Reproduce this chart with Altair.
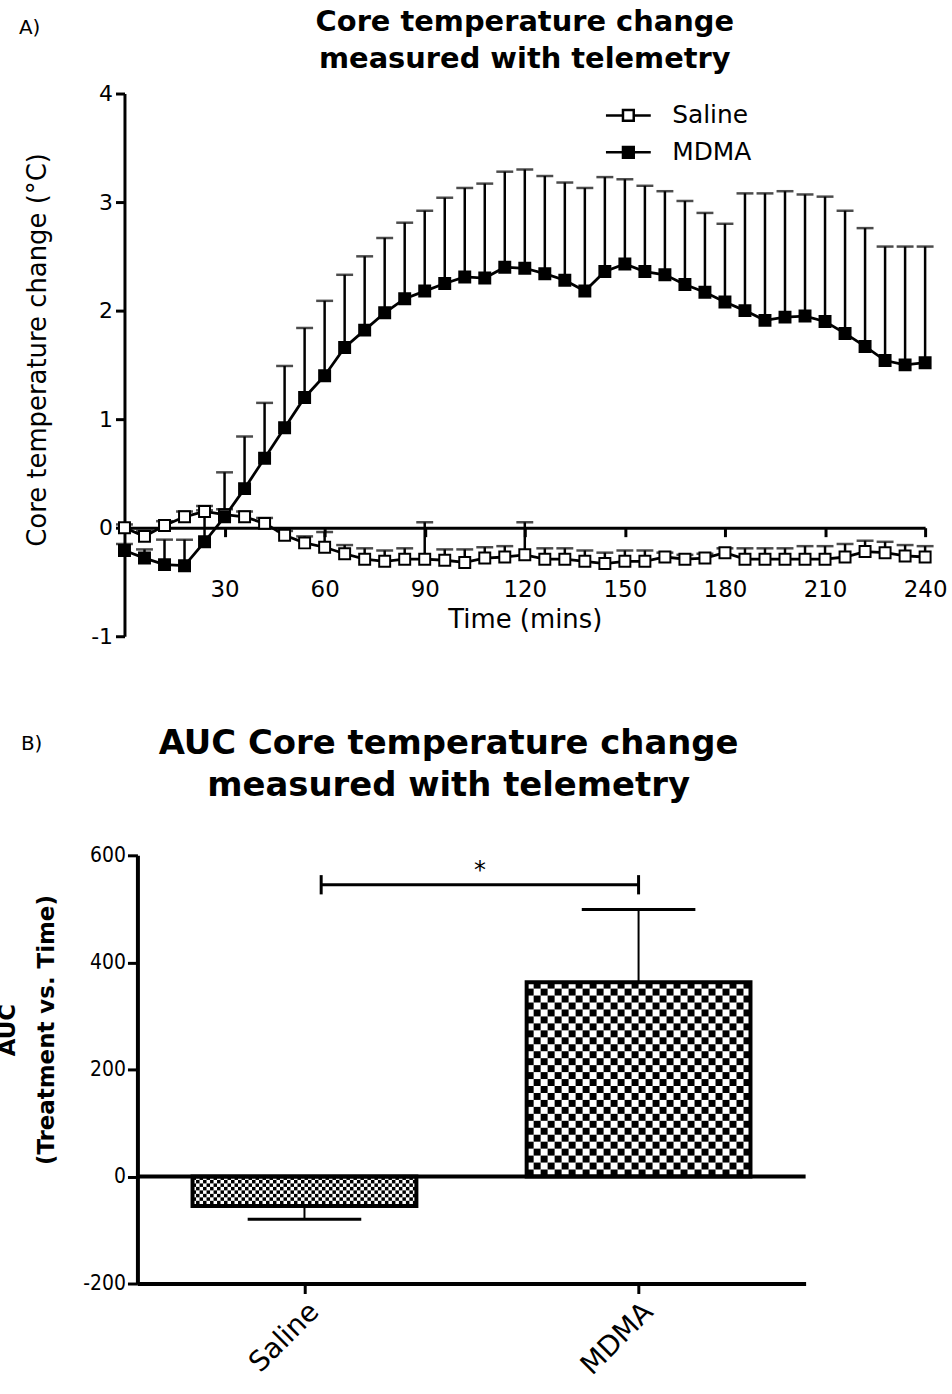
import json
import altair as alt
import pandas as pd

FONT = "DejaVu Sans"
NARROW = "Liberation Sans Narrow, DejaVu Sans Condensed, Liberation Sans"

# ---------------- Panel A data ----------------
time_min = [0, 6, 12, 18, 24, 30, 36, 42, 48, 54, 60, 66, 72, 78, 84, 90, 96, 102, 108, 114,
            120, 126, 132, 138, 144, 150, 156, 162, 168, 174, 180, 186, 192, 198, 204, 210,
            216, 222, 228, 234, 240]

mdma_mean = [-0.21, -0.28, -0.34, -0.35, -0.13, 0.10, 0.36, 0.64, 0.92, 1.20, 1.40, 1.66, 1.82,
             1.98, 2.11, 2.18, 2.25, 2.31, 2.30, 2.40, 2.39, 2.34, 2.28, 2.18, 2.36, 2.43, 2.36,
             2.33, 2.24, 2.17, 2.08, 2.00, 1.91, 1.94, 1.95, 1.90, 1.79, 1.67, 1.54, 1.50, 1.52]
mdma_sem = [0.06, 0.08, 0.23, 0.24, 0.29, 0.41, 0.48, 0.51, 0.57, 0.64, 0.69, 0.67, 0.68, 0.69,
            0.70, 0.74, 0.79, 0.82, 0.87, 0.88, 0.91, 0.90, 0.90, 0.95, 0.87, 0.78, 0.79, 0.77,
            0.77, 0.73, 0.72, 1.08, 1.17, 1.16, 1.12, 1.15, 1.13, 1.09, 1.05, 1.09, 1.07]

saline_mean = [0.00, -0.08, 0.02, 0.10, 0.15, 0.12, 0.10, 0.04, -0.07, -0.14, -0.18, -0.24, -0.29,
               -0.31, -0.29, -0.29, -0.30, -0.32, -0.28, -0.27, -0.25, -0.29, -0.29, -0.31, -0.33,
               -0.31, -0.31, -0.27, -0.29, -0.28, -0.23, -0.29, -0.29, -0.29, -0.29, -0.29, -0.27,
               -0.22, -0.23, -0.26, -0.27]
saline_sem = [0.03, 0.05, 0.04, 0.05, 0.05, 0.05, 0.05, 0.05, 0.04, 0.06, 0.14, 0.08, 0.10, 0.10,
              0.10, 0.34, 0.10, 0.12, 0.10, 0.10, 0.30, 0.10, 0.10, 0.10, 0.10, 0.10, 0.10, 0.04,
              0.04, 0.04, 0.04, 0.10, 0.10, 0.10, 0.12, 0.12, 0.12, 0.10, 0.10, 0.10, 0.10]

groups = ["Saline", "MDMA"]
x_ticks_a = [30, 60, 90, 120, 150, 180, 210, 240]
y_ticks_a = [-1, 0, 1, 2, 3, 4]

# ---------------- Panel B data ----------------
auc_groups = ["Saline", "MDMA"]
auc_pos = [0, 1]
auc_mean = [-55, 363]
auc_sem = [25, 136]
y_ticks_b = [-200, 0, 200, 400, 600]

sig_from, sig_to = 0.05, 1.0
sig_y, sig_tick_lo, sig_tick_hi = 545, 527, 563
sig_star_y = 570
sig_label = "*"

# ---------------- tables ----------------
rows = []
for g, means, sems in [("Saline", saline_mean, saline_sem), ("MDMA", mdma_mean, mdma_sem)]:
    for t, m, s in zip(time_min, means, sems):
        rows.append({"group": g, "time": t, "mean": m, "top": m + s})
ts = pd.DataFrame(rows)

BAR_HALF = 0.335
CAP_HALF = 0.17
bars = pd.DataFrame({"group": auc_groups, "pos": auc_pos, "mean": auc_mean, "sem": auc_sem})
bars["x0"] = bars["pos"] - BAR_HALF
bars["x1"] = bars["pos"] + BAR_HALF
bars["cx0"] = bars["pos"] - CAP_HALF
bars["cx1"] = bars["pos"] + CAP_HALF
bars["base"] = 0
bars["end"] = [m + (s if m >= 0 else -s) for m, s in zip(auc_mean, auc_sem)]

PLAIN = "'' + datum.value"

# ---------------- Panel A ----------------
W_A, H_A = 804, 545
xs_a = alt.Scale(domain=[0, 240], nice=False, zero=False)
ys_a = alt.Scale(domain=[-1, 4], nice=False, zero=False)
xax_a = alt.Axis(values=x_ticks_a, title="Time (mins)", offset=-H_A / 5, labelFlush=False,
                 labelOverlap=False, tickSize=9, tickWidth=3, domainWidth=3, labelFontSize=23,
                 labelPadding=42, titleFontSize=26, titleFontWeight="normal", titlePadding=5,
                 grid=False)
yax_a = alt.Axis(values=y_ticks_a, title="Core temperature change (°C)", labelExpr=PLAIN,
                 labelFlush=False, labelOverlap=False, tickSize=9, tickWidth=3, domainWidth=3,
                 labelFontSize=22, labelPadding=3, titleFontSize=26, titleFontWeight="normal",
                 titlePadding=40, titleY=257, grid=False)
X = alt.X("time:Q", scale=xs_a, axis=xax_a)

base = alt.Chart(ts)
err = base.mark_rule(color="black", strokeWidth=2.5).encode(
    x=X, y=alt.Y("mean:Q", scale=ys_a, axis=yax_a), y2="top:Q")
caps = base.mark_tick(color="black", orient="horizontal", size=17, thickness=2.5).encode(
    x=X, y=alt.Y("top:Q", scale=ys_a, axis=yax_a))
lines = base.mark_line(color="black", strokeWidth=2.8).encode(
    x=X, y=alt.Y("mean:Q", scale=ys_a, axis=yax_a), detail="group:N")
sym = "M-1,0H-0.24M0.24,0H1M-0.24,-0.24H0.24V0.24H-0.24Z"
pts = base.mark_point(shape="square", size=121, filled=True, stroke="black", strokeWidth=2,
                      opacity=1).encode(
    x=X, y=alt.Y("mean:Q", scale=ys_a, axis=yax_a),
    fill=alt.Fill("group:N", scale=alt.Scale(domain=groups, range=["white", "black"]),
                  legend=alt.Legend(title=None, orient="none", legendX=482, legendY=-2,
                                    symbolType=sym, symbolSize=2025, symbolStrokeColor="black",
                                    symbolStrokeWidth=2.5, symbolOpacity=1, labelFont=FONT,
                                    labelFontSize=25, labelColor="black", labelOffset=20,
                                    rowPadding=-8)))
lab_a = alt.Chart(pd.DataFrame({"t": ["A)"]})).mark_text(
    font=FONT, fontSize=20, align="left", baseline="middle", color="black").encode(
    text="t:N", x=alt.value(-106), y=alt.value(-66))

panel_a = alt.layer(err, caps, lines, pts, lab_a).properties(
    width=W_A, height=H_A,
    title=alt.Title(["Core temperature change", "measured with telemetry"], font=FONT,
                    fontSize=29, fontWeight="bold", anchor="middle", lineHeight=37, offset=-56,
                    color="black"))

# ---------------- Panel B ----------------
W_B, H_B = 671, 430
xs_b = alt.Scale(domain=[-0.5, 1.5], nice=False, zero=False)
ys_b = alt.Scale(domain=[-200, 600], nice=False, zero=False)
xax_b = alt.Axis(values=auc_pos, labelExpr=json.dumps(auc_groups) + "[datum.value]",
                 labelAngle=-45, labelAlign="right", labelBaseline="top", labelFontSize=28,
                 labelPadding=4, tickSize=10, tickWidth=3, domainWidth=4, title=None,
                 labelFlush=False, labelOverlap=False, grid=False)
yax_b = alt.Axis(values=y_ticks_b, title=["AUC", "(Treatment vs. Time)"], labelExpr=PLAIN,
                 labelFont=NARROW, labelFontSize=21, labelPadding=2, tickSize=10, tickWidth=3,
                 domainWidth=4, titleFontSize=23, titleFontWeight="bold", titlePadding=24,
                 titleLineHeight=40, titleY=175, labelFlush=False, labelOverlap=False,
                 grid=False)

bb = alt.Chart(bars)
zero = alt.Chart(pd.DataFrame({"y": [0]})).mark_rule(color="black", strokeWidth=4).encode(
    y=alt.Y("y:Q", scale=ys_b, axis=yax_b))
berr = bb.mark_rule(color="black", strokeWidth=2).encode(
    x=alt.X("pos:Q", scale=xs_b, axis=xax_b), y=alt.Y("mean:Q", scale=ys_b, axis=yax_b),
    y2="end:Q")
bcap = bb.mark_rule(color="black", strokeWidth=3).encode(
    x=alt.X("cx0:Q", scale=xs_b, axis=xax_b), x2="cx1:Q",
    y=alt.Y("end:Q", scale=ys_b, axis=yax_b))
cells = bb.transform_calculate(
    step="datum.group == 'MDMA' ? 13 : 6.5",
    ncol="datum.group == 'MDMA' ? 32 : 64",
).transform_calculate(
    rows="sequence(0, ceil(abs(datum.mean) / datum.step))",
    cols="sequence(0, datum.ncol)",
).transform_flatten(["rows"]).transform_flatten(["cols"]).transform_filter(
    "(datum.rows + datum.cols) % 2 == 0"
).transform_calculate(
    qx0="datum.x0 + datum.cols * (datum.x1 - datum.x0) / datum.ncol",
    qx1="datum.x0 + (datum.cols + 1) * (datum.x1 - datum.x0) / datum.ncol",
    qy0="(datum.mean < 0 ? -1 : 1) * datum.rows * datum.step",
    qy1="(datum.mean < 0 ? -1 : 1) * min((datum.rows + 1) * datum.step, abs(datum.mean))",
).mark_rect(color="black", strokeWidth=0).encode(
    x=alt.X("qx0:Q", scale=xs_b, axis=xax_b), x2="qx1:Q",
    y=alt.Y("qy0:Q", scale=ys_b, axis=yax_b), y2="qy1:Q")
outline = bb.mark_rect(fillOpacity=0, stroke="black", strokeWidth=4).encode(
    x=alt.X("x0:Q", scale=xs_b, axis=xax_b), x2="x1:Q",
    y=alt.Y("mean:Q", scale=ys_b, axis=yax_b), y2="base:Q")

sig = pd.DataFrame({"a": [sig_from], "b": [sig_to], "y": [sig_y], "lo": [sig_tick_lo],
                    "hi": [sig_tick_hi], "mid": [(sig_from + sig_to) / 2], "sy": [sig_star_y],
                    "lab": [sig_label]})
sc = alt.Chart(sig)
br_h = sc.mark_rule(color="black", strokeWidth=3).encode(
    x=alt.X("a:Q", scale=xs_b, axis=xax_b), x2="b:Q", y=alt.Y("y:Q", scale=ys_b, axis=yax_b))
br_l = sc.mark_rule(color="black", strokeWidth=3).encode(
    x=alt.X("a:Q", scale=xs_b, axis=xax_b), y=alt.Y("lo:Q", scale=ys_b, axis=yax_b), y2="hi:Q")
br_r = sc.mark_rule(color="black", strokeWidth=3).encode(
    x=alt.X("b:Q", scale=xs_b, axis=xax_b), y=alt.Y("lo:Q", scale=ys_b, axis=yax_b), y2="hi:Q")
star = sc.mark_text(font=FONT, fontSize=24, color="black", baseline="middle").encode(
    x=alt.X("mid:Q", scale=xs_b, axis=xax_b), y=alt.Y("sy:Q", scale=ys_b, axis=yax_b),
    text="lab:N")
lab_b = alt.Chart(pd.DataFrame({"t": ["B)"]})).mark_text(
    font=FONT, fontSize=20, align="left", baseline="middle", color="black").encode(
    text="t:N", x=alt.value(-117), y=alt.value(-112))

panel_b = alt.layer(zero, berr, bcap, cells, outline, br_h, br_l, br_r, star, lab_b).properties(
    width=W_B, height=H_B,
    title=alt.Title(["AUC Core temperature change", "measured with telemetry"], font=FONT,
                    fontSize=34, fontWeight="bold", anchor="middle", lineHeight=42, offset=-69,
                    dx=-23, color="black"))

spacer = alt.Chart(pd.DataFrame({"a": [0]})).mark_point(opacity=0).properties(width=13, height=10)
row_b = alt.hconcat(spacer, panel_b, spacing=0, bounds="flush")

chart = alt.vconcat(panel_a, row_b, spacing=220, bounds="flush").properties(
    padding={"left": -4, "top": 5, "right": 5, "bottom": 5}, background="white"
).configure_view(stroke=None).configure_axis(
    labelFont=FONT, titleFont=FONT, labelColor="black", titleColor="black",
    domainColor="black", tickColor="black", grid=False
)

chart.save("out.html", embed_options={"renderer": "svg", "actions": False})
